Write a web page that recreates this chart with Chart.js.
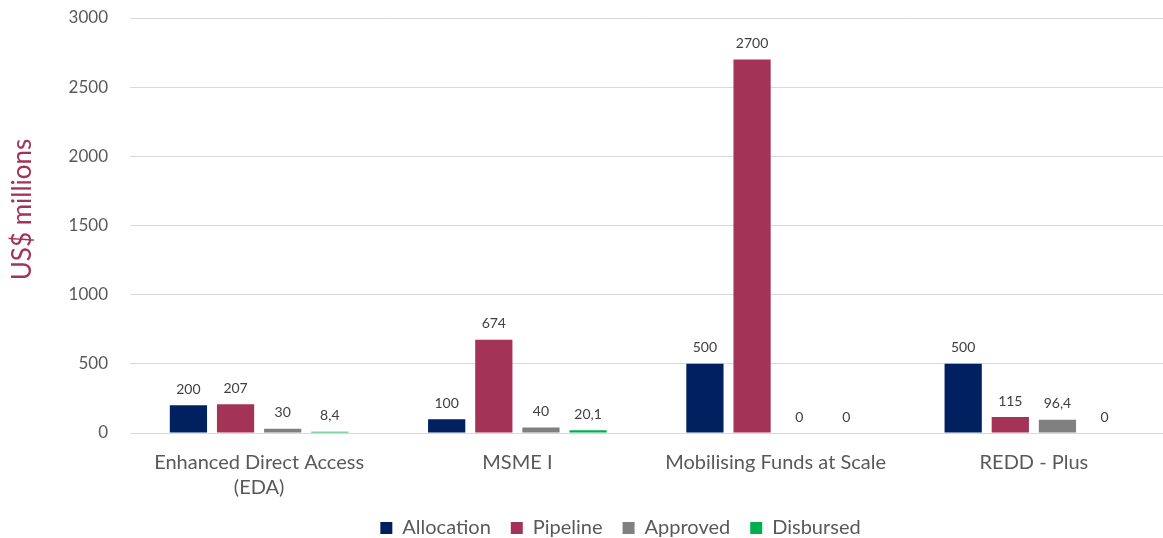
<!DOCTYPE html>
<html>
<head>
<meta charset="utf-8">
<script src="https://cdn.jsdelivr.net/npm/chart.js@4"></script>
<style>
  html, body { margin: 0; padding: 0; background: #fff; }
  #wrap { width: 1163px; height: 538px; }
</style>
</head>
<body>
<div id="wrap"><canvas id="chart"></canvas></div>
<script>
// chart data
const categories = [["Enhanced Direct Access", "(EDA)"], "MSME I", "Mobilising Funds at Scale", "REDD - Plus"];
const allocation = [200, 100, 500, 500];
const pipeline = [207, 674, 2700, 115];
const approved = [30, 40, 0, 96.4];
const disbursed = [8.4, 20.1, 0, 0];
const yTicks = [0, 500, 1000, 1500, 2000, 2500, 3000];
const yTitle = 'US$ millions';

const FONT = 'Lato, "Open Sans", sans-serif';

// value labels above each bar + the y title (drawn by hand so it can sit a bit higher)
const extras = {
  id: 'extras',
  afterLayout(chart) {
    // legend in the original sits a bit right of the canvas centre
    chart.legend.left += 39;
    chart.legend.right += 39;
  },
  afterDatasetsDraw(chart) {
    const ctx = chart.ctx;
    ctx.save();
    ctx.font = '14px ' + FONT;
    ctx.fillStyle = '#404040';
    ctx.textAlign = 'center';
    ctx.textBaseline = 'bottom';
    chart.data.datasets.forEach((ds, i) => {
      chart.getDatasetMeta(i).data.forEach((bar, j) => {
        const txt = String(ds.data[j]).replace('.', ',');
        ctx.fillText(txt, bar.x, bar.y - 9);
      });
    });
    ctx.restore();
  },
  afterDraw(chart) {
    const ctx = chart.ctx;
    const area = chart.chartArea;
    ctx.save();
    ctx.translate(23, (area.top + area.bottom) / 2 - 16);
    ctx.rotate(-Math.PI / 2);
    ctx.font = '26px ' + FONT;
    ctx.fillStyle = '#A33457';
    ctx.textAlign = 'center';
    ctx.textBaseline = 'middle';
    ctx.fillText(yTitle, 0, 0);
    ctx.restore();
  }
};

new Chart(document.getElementById('chart'), {
  type: 'bar',
  data: {
    labels: categories,
    datasets: [
      { label: 'Allocation', data: allocation, backgroundColor: '#002060' },
      { label: 'Pipeline', data: pipeline, backgroundColor: '#A33457' },
      { label: 'Approved', data: approved, backgroundColor: '#808080' },
      { label: 'Disbursed', data: disbursed, backgroundColor: '#00B050' }
    ]
  },
  options: {
    responsive: true,
    maintainAspectRatio: false,
    animation: false,
    layout: { padding: { left: 0, right: 0, top: 18, bottom: -10 } },
    datasets: {
      bar: { barPercentage: 0.79, categoryPercentage: 0.73 }
    },
    plugins: {
      legend: {
        position: 'bottom',
        labels: {
          boxWidth: 12,
          boxHeight: 12,
          padding: 20,
          color: '#595959',
          font: { size: 20, family: FONT }
        }
      },
      tooltip: { enabled: false }
    },
    scales: {
      x: {
        grid: { display: false },
        border: { color: '#d9d9d9' },
        afterFit(axis) { axis.height -= 11; },
        ticks: {
          color: '#595959',
          padding: 9,
          font: { size: 20, family: FONT, lineHeight: 1.25 }
        }
      },
      y: {
        min: 0,
        max: 3000,
        afterBuildTicks(axis) { axis.ticks = yTicks.map(v => ({ value: v })); },
        afterFit(axis) { axis.width = 130; },
        grid: { color: '#d9d9d9', tickLength: 16, tickColor: 'rgba(0,0,0,0)' },
        border: { display: false },
        ticks: {
          color: '#595959',
          padding: 6,
          font: { size: 17, family: FONT },
          callback: v => String(v)
        }
      }
    }
  },
  plugins: [extras]
});
</script>
</body>
</html>
